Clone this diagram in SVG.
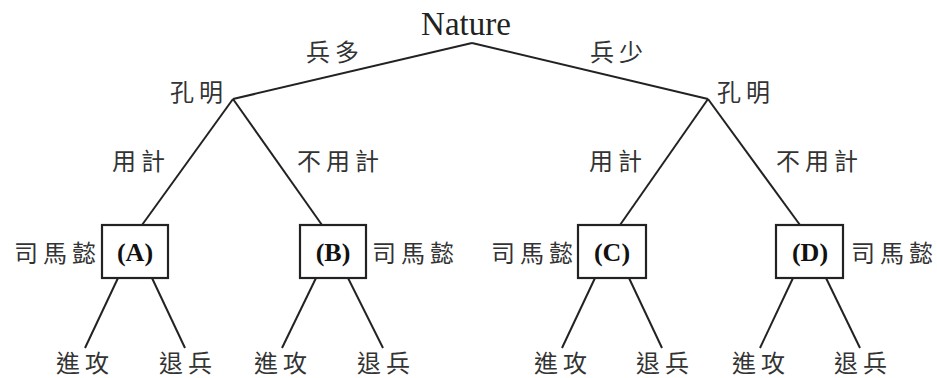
<svg xmlns="http://www.w3.org/2000/svg" width="937" height="378" viewBox="0 0 937 378">
<style>
.ln{stroke:#222;stroke-width:2;fill:none}
.bx{stroke:#222;stroke-width:2.2;fill:#fff}
.cj{font-family:"Noto Sans CJK TC","Noto Sans CJK SC",sans-serif;font-size:24px;fill:#333;letter-spacing:5px}
.lt{font-family:"Liberation Serif",serif;fill:#222}
.bl{font-family:"Liberation Serif",serif;font-weight:bold;font-size:26px;fill:#111;text-anchor:middle}
</style>
<rect width="937" height="378" fill="#fff"/>
<g id="connectors">
<line class="ln" x1="472" y1="43" x2="233" y2="99"/>
<line class="ln" x1="472" y1="43" x2="708" y2="99"/>
<line class="ln" x1="233" y1="99" x2="142" y2="225"/>
<line class="ln" x1="233" y1="99" x2="322" y2="225"/>
<line class="ln" x1="708" y1="99" x2="620" y2="225"/>
<line class="ln" x1="708" y1="99" x2="800" y2="225"/>
<line class="ln" x1="118" y1="278" x2="85" y2="348"/>
<line class="ln" x1="152" y1="278" x2="185" y2="348"/>
<line class="ln" x1="316" y1="278" x2="282" y2="348"/>
<line class="ln" x1="348" y1="278" x2="383" y2="348"/>
<line class="ln" x1="595" y1="278" x2="562" y2="348"/>
<line class="ln" x1="629" y1="278" x2="662" y2="348"/>
<line class="ln" x1="793" y1="278" x2="760" y2="348"/>
<line class="ln" x1="826" y1="278" x2="860" y2="348"/>
</g>
<g id="nature"><text class="lt" x="466" y="35" font-size="33" text-anchor="middle">Nature</text></g>
<g id="edge-labels">
<text class="cj" x="306" y="61" letter-spacing="11">兵多</text>
<text class="cj" x="590" y="61" letter-spacing="11">兵少</text>
<text class="cj" x="112" y="170">用計</text>
<text class="cj" x="297" y="170">不用計</text>
<text class="cj" x="589" y="170">用計</text>
<text class="cj" x="776" y="170">不用計</text>
</g>
<g id="kongming-left"><text class="cj" x="170" y="101">孔明</text></g>
<g id="kongming-right"><text class="cj" x="717" y="101">孔明</text></g>
<g id="nodeA">
<rect class="bx" x="102" y="225" width="66" height="53"/>
<text class="bl" x="135" y="261">(A)</text>
<text class="cj" x="14" y="262">司馬懿</text>
</g>
<g id="nodeB">
<rect class="bx" x="300" y="225" width="66" height="53"/>
<text class="bl" x="333" y="261">(B)</text>
<text class="cj" x="372" y="262">司馬懿</text>
</g>
<g id="nodeC">
<rect class="bx" x="578" y="225" width="68" height="53"/>
<text class="bl" x="612" y="261">(C)</text>
<text class="cj" x="491" y="262">司馬懿</text>
</g>
<g id="nodeD">
<rect class="bx" x="776" y="225" width="67" height="53"/>
<text class="bl" x="810" y="261">(D)</text>
<text class="cj" x="851" y="262">司馬懿</text>
</g>
<g id="leaves">
<text class="cj" x="56" y="372">進攻</text>
<text class="cj" x="159" y="372">退兵</text>
<text class="cj" x="254" y="372">進攻</text>
<text class="cj" x="357" y="372">退兵</text>
<text class="cj" x="534" y="372">進攻</text>
<text class="cj" x="636" y="372">退兵</text>
<text class="cj" x="732" y="372">進攻</text>
<text class="cj" x="834" y="372">退兵</text>
</g>
</svg>
